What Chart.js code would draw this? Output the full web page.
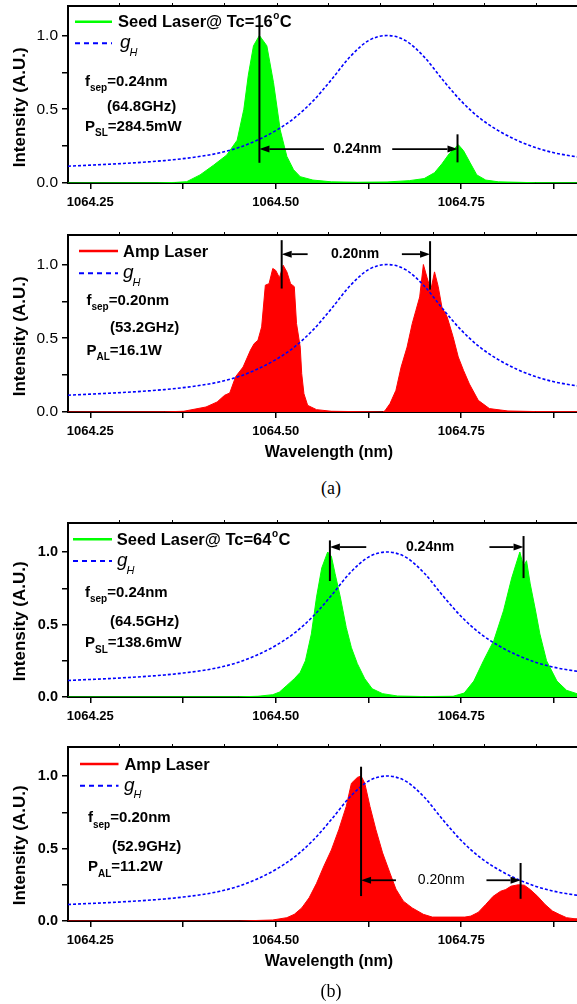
<!DOCTYPE html>
<html>
<head>
<meta charset="utf-8">
<script src="https://cdn.jsdelivr.net/npm/chart.js@4.4.1/dist/chart.umd.min.js"></script>
<style>
  html, body { margin: 0; padding: 0; background: #fff; overflow: hidden; }
  #page { position: relative; width: 577px; height: 1004px; overflow: hidden; }
  #page canvas { position: absolute; left: 0; }
  .cap { position: absolute; font-family: 'Liberation Serif', 'Times New Roman', serif; font-size: 18px;
         transform: translate(-50%, -50%); white-space: nowrap; }
</style>
</head>
<body>
<div id="page">
  <canvas id="p1"></canvas>
  <canvas id="p2"></canvas>
  <canvas id="p3"></canvas>
  <canvas id="p4"></canvas>
  <div class="cap" style="left:331px; top:488px;">(a)</div>
  <div class="cap" style="left:331px; top:991px;">(b)</div>
</div>
<script>
// axis ticks
const xTickValues = [1064.25, 1064.375, 1064.5, 1064.625, 1064.75, 1064.875];
const xTickLabels = ['1064.25', '', '1064.50', '', '1064.75', ''];
const topTickValues = [1064.29, 1064.361, 1064.431, 1064.502, 1064.571, 1064.641, 1064.712, 1064.782, 1064.852, 1064.922];
const yTickValues = [0, 0.25, 0.5, 0.75, 1.0];
const yTickLabels = ['0.0', '', '0.5', '', '1.0'];

// homogeneous gain profile g_H (same in every panel)
const gainWl = [1064.22, 1064.25, 1064.275, 1064.30, 1064.325, 1064.35, 1064.375, 1064.40, 1064.425, 1064.45,
  1064.475, 1064.50, 1064.525, 1064.55, 1064.575, 1064.60, 1064.625, 1064.65, 1064.675, 1064.70,
  1064.725, 1064.75, 1064.775, 1064.80, 1064.825, 1064.85, 1064.875, 1064.90, 1064.925, 1064.95, 1064.975];
const gainVal = [0.114, 0.121, 0.127, 0.134, 0.142, 0.152, 0.165, 0.182, 0.205, 0.24,
  0.29, 0.355, 0.44, 0.555, 0.70, 0.855, 0.965, 1.0, 0.965, 0.855,
  0.70, 0.555, 0.44, 0.355, 0.29, 0.24, 0.205, 0.182, 0.165, 0.152, 0.142];

// (a) seed laser @ 16 C
const seedAWl = [1064.22, 1064.34, 1064.365, 1064.38, 1064.398, 1064.416, 1064.434, 1064.448, 1064.457, 1064.463,
  1064.470, 1064.478, 1064.488, 1064.497, 1064.506, 1064.515, 1064.524, 1064.533, 1064.55, 1064.575,
  1064.61, 1064.65, 1064.68, 1064.70, 1064.714, 1064.724, 1064.734, 1064.746, 1064.753, 1064.762,
  1064.771, 1064.783, 1064.80, 1064.85, 1064.975];
const seedAVal = [0, 0.001, 0.004, 0.009, 0.055, 0.12, 0.19, 0.29, 0.50, 0.73,
  0.93, 1.0, 0.93, 0.68, 0.36, 0.18, 0.09, 0.043, 0.02, 0.008,
  0.005, 0.007, 0.016, 0.03, 0.07, 0.13, 0.20, 0.26, 0.22, 0.137,
  0.055, 0.02, 0.008, 0.002, 0];

// (a) amplified laser
const ampAWl = [1064.22, 1064.35, 1064.376, 1064.406, 1064.421, 1064.431, 1064.438, 1064.446, 1064.456, 1064.466,
  1064.471, 1064.476, 1064.481, 1064.486, 1064.491, 1064.496, 1064.500, 1064.505, 1064.510, 1064.515,
  1064.520, 1064.525, 1064.528, 1064.533, 1064.535, 1064.538, 1064.543, 1064.555, 1064.575, 1064.644,
  1064.647, 1064.654, 1064.662, 1064.669, 1064.677, 1064.684, 1064.689, 1064.694, 1064.699, 1064.704,
  1064.709, 1064.714, 1064.719, 1064.724, 1064.731, 1064.739, 1064.746, 1064.753, 1064.761, 1064.773,
  1064.788, 1064.813, 1064.85, 1064.975];
const ampAVal = [0, 0.001, 0.005, 0.034, 0.068, 0.113, 0.129, 0.24, 0.305, 0.42,
  0.464, 0.486, 0.577, 0.86, 0.87, 0.973, 0.96, 0.91, 0.995, 0.95,
  0.87, 0.85, 0.60, 0.44, 0.26, 0.124, 0.045, 0.016, 0.005, 0,
  0.007, 0.057, 0.147, 0.305, 0.44, 0.60, 0.69, 0.78, 1.0, 0.91,
  0.826, 0.95, 0.85, 0.71, 0.645, 0.51, 0.373, 0.283, 0.19, 0.079,
  0.023, 0.007, 0.003, 0];

// (b) seed laser @ 64 C
const seedBWl = [1064.22, 1064.45, 1064.476, 1064.496, 1064.505, 1064.515, 1064.525, 1064.533, 1064.540, 1064.548,
  1064.555, 1064.562, 1064.570, 1064.575, 1064.580, 1064.587, 1064.595, 1064.602, 1064.610, 1064.620,
  1064.630, 1064.644, 1064.664, 1064.70, 1064.739, 1064.754, 1064.767, 1064.780, 1064.794, 1064.807,
  1064.818, 1064.829, 1064.834, 1064.838, 1064.843, 1064.850, 1064.856, 1064.865, 1064.879, 1064.892,
  1064.906, 1064.93, 1064.975];
const seedBVal = [0, 0.001, 0.005, 0.016, 0.034, 0.08, 0.126, 0.17, 0.25, 0.435,
  0.69, 0.89, 1.0, 0.97, 0.85, 0.69, 0.48, 0.34, 0.23, 0.126,
  0.057, 0.023, 0.007, 0.003, 0.005, 0.027, 0.11, 0.25, 0.39, 0.595,
  0.82, 1.0, 0.90, 0.94, 0.78, 0.60, 0.435, 0.25, 0.11, 0.046,
  0.023, 0.01, 0];

// (b) amplified laser
const ampBWl = [1064.22, 1064.451, 1064.496, 1064.515, 1064.525, 1064.535, 1064.545, 1064.555, 1064.565, 1064.575,
  1064.585, 1064.595, 1064.602, 1064.610, 1064.615, 1064.620, 1064.627, 1064.635, 1064.644, 1064.654,
  1064.662, 1064.672, 1064.684, 1064.699, 1064.711, 1064.735, 1064.755, 1064.763, 1064.773, 1064.783,
  1064.793, 1064.803, 1064.810, 1064.817, 1064.827, 1064.835, 1064.843, 1064.853, 1064.863, 1064.873,
  1064.882, 1064.892, 1064.902, 1064.93, 1064.975];
const ampBVal = [0, 0, 0.007, 0.023, 0.046, 0.09, 0.16, 0.26, 0.38, 0.49,
  0.63, 0.79, 0.95, 0.99, 1.0, 0.95, 0.79, 0.63, 0.47, 0.33,
  0.22, 0.137, 0.09, 0.046, 0.027, 0.027, 0.027, 0.034, 0.06, 0.114,
  0.17, 0.205, 0.217, 0.24, 0.25, 0.247, 0.217, 0.17, 0.114, 0.069,
  0.046, 0.023, 0.016, 0.012, 0.01];

// peak separation markers: [wavelength, from, to] and arrow tails
const sepLinesA1 = [[1064.478, 0.137, 1.06], [1064.745, 0.14, 0.33]];
const sepTailsA1 = [1064.565, 1064.657];
const sepLinesA2 = [[1064.508, 0.837, 1.165], [1064.708, 0.83, 1.158]];
const sepTailsA2 = [1064.543, 1064.670];
const sepLinesB1 = [[1064.573, 0.80, 1.08], [1064.834, 0.82, 1.11]];
const sepTailsB1 = [1064.622, 1064.788];
const sepLinesB2 = [[1064.615, 0.172, 1.064], [1064.830, 0.153, 0.40]];
const sepTailsB2 = [1064.662, 1064.784];

const FONT = "'Liberation Sans', Arial, Helvetica, sans-serif";
const X_MIN = 1064.22, X_MAX = 1064.964;
const GREEN = '#00ff00', RED = '#ff0000', BLUE = '#0000ff';

const panels = [
  { id: 'p1', top: 0, plotH: 177, wl: seedAWl, val: seedAVal, color: GREEN,
    label: 'Seed Laser@ Tc=16', degree: true, yBold: false,
    lines: sepLinesA1, tails: sepTailsA1, arrowY: 0.23, sepText: '0.24nm', sepX: 1064.610, sepBold: true,
    fsep: '=0.24nm', ghz: '(64.8GHz)', pSub: 'SL', power: '=284.5mW', xTitle: false,
    lay: { lx1: 75, lx2: 112, ly: 21.7, tx: 118, gy: 43.3, gx: 120, fx: 85, fy: 81.7, hx: 107, hy: 107, py: 126.7 } },
  { id: 'p2', top: 229, plotH: 177, wl: ampAWl, val: ampAVal, color: RED,
    label: 'Amp Laser', degree: false, yBold: false,
    lines: sepLinesA2, tails: sepTailsA2, arrowY: 1.07, sepText: '0.20nm', sepX: 1064.607, sepBold: true,
    fsep: '=0.20nm', ghz: '(53.2GHz)', pSub: 'AL', power: '=16.1W', xTitle: true,
    lay: { lx1: 79, lx2: 118, ly: 22, tx: 123, gy: 44.3, gx: 123, fx: 86.5, fy: 71.7, hx: 110, hy: 99.3, py: 121.7 } },
  { id: 'p3', top: 517, plotH: 174, wl: seedBWl, val: seedBVal, color: GREEN,
    label: 'Seed Laser@ Tc=64', degree: true, yBold: true,
    lines: sepLinesB1, tails: sepTailsB1, arrowY: 1.034, sepText: '0.24nm', sepX: 1064.708, sepBold: true,
    fsep: '=0.24nm', ghz: '(64.5GHz)', pSub: 'SL', power: '=138.6mW', xTitle: false,
    lay: { lx1: 73, lx2: 112, ly: 22.3, tx: 116.7, gy: 44, gx: 117, fx: 85, fy: 75.7, hx: 110, hy: 104.7, py: 126.3 } },
  { id: 'p4', top: 741, plotH: 174, wl: ampBWl, val: ampBVal, color: RED,
    label: 'Amp Laser', degree: false, yBold: true,
    lines: sepLinesB2, tails: sepTailsB2, arrowY: 0.281, sepText: '0.20nm', sepX: 1064.723, sepBold: false,
    fsep: '=0.20nm', ghz: '(52.9GHz)', pSub: 'AL', power: '=11.2W', xTitle: true,
    lay: { lx1: 80, lx2: 118.5, ly: 23, tx: 124.4, gy: 44.7, gx: 124, fx: 88, fy: 77.3, hx: 112, hy: 105.7, py: 126.3 } }
];

function arrow(ctx, xTail, xHead, y) {
  const dir = Math.sign(xHead - xTail), len = 10, half = 3.5;
  ctx.beginPath();
  ctx.moveTo(xTail, y);
  ctx.lineTo(xHead - dir * len, y);
  ctx.stroke();
  ctx.beginPath();
  ctx.moveTo(xHead, y);
  ctx.lineTo(xHead - dir * len, y - half);
  ctx.lineTo(xHead - dir * len, y + half);
  ctx.closePath();
  ctx.fill();
}

// text with a subscript in the middle: main, sub, rest
function subText(ctx, x, y, main, sub, rest) {
  ctx.font = 'bold 15px ' + FONT;
  ctx.fillText(main, x, y);
  x += ctx.measureText(main).width;
  ctx.font = 'bold 10px ' + FONT;
  ctx.fillText(sub, x, y + 7);
  x += ctx.measureText(sub).width;
  ctx.font = 'bold 15px ' + FONT;
  ctx.fillText(rest, x, y);
}

const notesPlugin = {
  id: 'notes',
  afterDatasetsDraw(chart, args, opts) {
    const p = opts.panel;
    if (!p) return;
    const ctx = chart.ctx, xs = chart.scales.x, ys = chart.scales.y, area = chart.chartArea;
    const L = p.lay;
    ctx.save();
    ctx.strokeStyle = '#000';
    ctx.fillStyle = '#000';
    ctx.lineWidth = 2;

    // separation markers
    p.lines.forEach(([w, y0, y1], i) => {
      const X = xs.getPixelForValue(w);
      ctx.beginPath();
      ctx.moveTo(X, ys.getPixelForValue(y0));
      ctx.lineTo(X, ys.getPixelForValue(y1));
      ctx.stroke();
      ctx.lineWidth = 1.8;
      arrow(ctx, xs.getPixelForValue(p.tails[i]), X, ys.getPixelForValue(p.arrowY));
      ctx.lineWidth = 2;
    });
    ctx.font = (p.sepBold ? 'bold ' : '') + '14px ' + FONT;
    ctx.textAlign = 'center';
    ctx.textBaseline = 'middle';
    ctx.fillText(p.sepText, xs.getPixelForValue(p.sepX), ys.getPixelForValue(p.arrowY));

    // legend
    ctx.textAlign = 'left';
    ctx.strokeStyle = p.color;
    ctx.lineWidth = 2.5;
    ctx.beginPath();
    ctx.moveTo(L.lx1, L.ly);
    ctx.lineTo(L.lx2, L.ly);
    ctx.stroke();
    ctx.font = 'bold 16.5px ' + FONT;
    ctx.fillText(p.label, L.tx, L.ly + 1);
    if (p.degree) {
      let x = L.tx + ctx.measureText(p.label).width;
      ctx.font = 'bold 10px ' + FONT;
      ctx.fillText('o', x + 0.5, L.ly - 5);
      x += ctx.measureText('o').width + 1;
      ctx.font = 'bold 16.5px ' + FONT;
      ctx.fillText('C', x, L.ly + 1);
    }
    ctx.strokeStyle = BLUE;
    ctx.lineWidth = 2;
    ctx.setLineDash([5, 4]);
    ctx.beginPath();
    ctx.moveTo(L.lx1, L.gy);
    ctx.lineTo(L.lx2, L.gy);
    ctx.stroke();
    ctx.setLineDash([]);
    ctx.textBaseline = 'alphabetic';
    ctx.font = 'italic 19px ' + FONT;
    ctx.fillText('g', L.gx, L.gy + 5);
    const gw = ctx.measureText('g').width;
    ctx.font = 'italic 11px ' + FONT;
    ctx.fillText('H', L.gx + gw - 1, L.gy + 12.5);

    // parameters
    ctx.textBaseline = 'middle';
    subText(ctx, L.fx, L.fy, 'f', 'sep', p.fsep);
    ctx.font = 'bold 15px ' + FONT;
    ctx.fillText(p.ghz, L.hx, L.hy);
    subText(ctx, L.fx, L.py, 'P', p.pSub, p.power);

    // axis titles
    ctx.font = 'bold 17px ' + FONT;
    ctx.textAlign = 'center';
    ctx.save();
    ctx.translate(20, area.bottom - 75.7);
    ctx.rotate(-Math.PI / 2);
    ctx.fillText('Intensity (A.U.)', 0, 0);
    ctx.restore();
    if (p.xTitle) {
      ctx.font = 'bold 16px ' + FONT;
      ctx.fillText('Wavelength (nm)', 329, area.bottom + 40.5);
    }
    ctx.restore();
  }
};

// fixed axis boxes so the plot area sits where the reference puts it
function fixBox(size) {
  return s => {
    if (s.isHorizontal()) s.height = size; else s.width = size;
    s.paddingTop = 0; s.paddingBottom = 0; s.paddingLeft = 0; s.paddingRight = 0;
  };
}

function makePanel(p) {
  const canvas = document.getElementById(p.id);
  const W = 620, H = p.plotH + 70;
  canvas.width = W;
  canvas.height = H;
  canvas.style.width = W + 'px';
  canvas.style.height = H + 'px';
  canvas.style.top = p.top + 'px';

  const axisGrid = { display: true, drawOnChartArea: false, drawTicks: true, tickLength: 6, color: '#000', lineWidth: 1.5 };
  const axisBorder = { display: true, color: '#000', width: 2 };

  new Chart(canvas, {
    type: 'line',
    data: {
      datasets: [
        { label: 'g_H', data: gainWl.map((w, i) => ({ x: w, y: gainVal[i] })),
          borderColor: BLUE, borderWidth: 1.6, borderDash: [3, 2], fill: false,
          pointRadius: 0, cubicInterpolationMode: 'monotone', order: 1 },
        { label: p.label, data: p.wl.map((w, i) => ({ x: w, y: p.val[i] })),
          borderColor: p.color, backgroundColor: p.color, borderWidth: 1, fill: 'origin',
          pointRadius: 0, tension: 0, order: 2 }
      ]
    },
    options: {
      responsive: false,
      maintainAspectRatio: false,
      animation: false,
      devicePixelRatio: 1,
      layout: { padding: { top: 0, right: 0, bottom: 34, left: 0 } },
      scales: {
        x: {
          type: 'linear', position: 'bottom', min: X_MIN, max: X_MAX,
          afterBuildTicks: s => { s.ticks = xTickValues.map(v => ({ value: v })); },
          afterFit: fixBox(30),
          ticks: { autoSkip: false, maxRotation: 0, padding: 6, color: '#000',
                   font: { family: FONT, size: 13, weight: 'bold' },
                   callback: (v, i) => xTickLabels[i] },
          grid: axisGrid, border: axisBorder
        },
        xTop: {
          type: 'linear', position: 'top', min: X_MIN, max: X_MAX,
          afterBuildTicks: s => { s.ticks = topTickValues.map(v => ({ value: v })); },
          afterFit: fixBox(6),
          ticks: { autoSkip: false, display: true, padding: 0, callback: () => '' },
          grid: { display: true, drawOnChartArea: false, drawTicks: true, tickLength: 3, color: '#000', lineWidth: 1 },
          border: axisBorder
        },
        y: {
          min: 0, max: 1.2,
          afterBuildTicks: s => { s.ticks = yTickValues.map(v => ({ value: v })); },
          afterFit: fixBox(68),
          ticks: { autoSkip: false, padding: 4, color: '#000',
                   font: { family: FONT, size: p.yBold ? 14.5 : 15.5, weight: p.yBold ? 'bold' : 'normal' },
                   callback: (v, i) => yTickLabels[i] },
          grid: axisGrid, border: axisBorder
        }
      },
      plugins: {
        legend: { display: false },
        tooltip: { enabled: false },
        notes: { panel: p }
      }
    },
    plugins: [notesPlugin]
  });
}

panels.forEach(makePanel);
</script>
</body>
</html>
